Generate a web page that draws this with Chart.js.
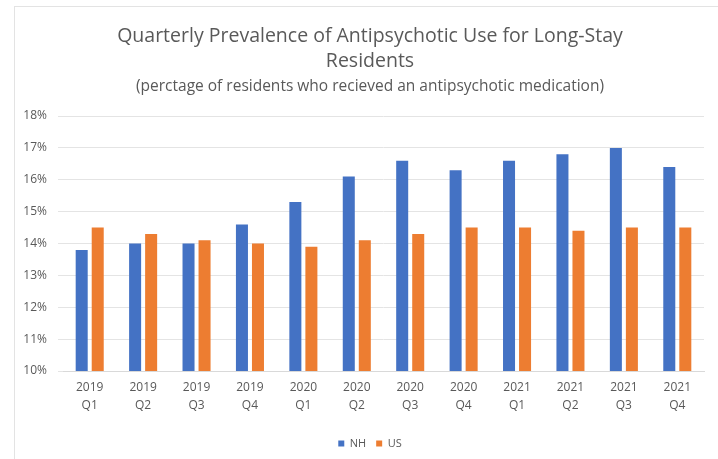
<!DOCTYPE html>
<html>
<head>
<meta charset="utf-8">
<script src="https://cdn.jsdelivr.net/npm/chart.js@4/dist/chart.umd.min.js"></script>
<style>
  html, body { margin: 0; padding: 0; background: #ffffff; overflow: hidden; }
  #frame {
    position: absolute; left: 14px; top: 6px; width: 720px; height: 470px;
    border: 1px solid #e3e3e3; box-sizing: border-box; background: #fff;
  }
  #wrap { position: absolute; left: 0; top: 0; width: 718px; height: 459px; }
</style>
</head>
<body>
<div id="frame"></div>
<div id="wrap"><canvas id="chart" width="718" height="459"></canvas></div>
<script>
// Quarters, shown as two-line labels
const quarters = [
  ["2019", "Q1"], ["2019", "Q2"], ["2019", "Q3"], ["2019", "Q4"],
  ["2020", "Q1"], ["2020", "Q2"], ["2020", "Q3"], ["2020", "Q4"],
  ["2021", "Q1"], ["2021", "Q2"], ["2021", "Q3"], ["2021", "Q4"]
];
// Share of long-stay residents on antipsychotics (%)
const nhValues = [13.8, 14.0, 14.0, 14.6, 15.3, 16.1, 16.6, 16.3, 16.6, 16.8, 17.0, 16.4];
const usValues = [14.5, 14.3, 14.1, 14.0, 13.9, 14.1, 14.3, 14.5, 14.5, 14.4, 14.5, 14.5];
const seriesNames = ["NH", "US"];
const titleLines = ["Quarterly Prevalence of Antipsychotic Use for Long-Stay", "Residents"];
const subtitleText = "(perctage of residents who recieved an antipsychotic medication)";

const textColor = "#595959";
const fontFamily = "'Open Sans', 'Liberation Sans', sans-serif";

new Chart(document.getElementById("chart"), {
  type: "bar",
  data: {
    labels: quarters,
    datasets: [
      { label: seriesNames[0], data: nhValues, backgroundColor: "#4472c4",
        categoryPercentage: 0.6, barPercentage: 0.75 },
      { label: seriesNames[1], data: usValues, backgroundColor: "#ed7d31",
        categoryPercentage: 0.6, barPercentage: 0.75 }
    ]
  },
  options: {
    responsive: false,
    animation: false,
    devicePixelRatio: 1,
    layout: { padding: { left: 22, right: 0, top: 0, bottom: 0 } },
    plugins: {
      title: {
        display: true, text: titleLines, color: textColor,
        font: { family: fontFamily, size: 19.5, weight: "normal", lineHeight: "25px" },
        padding: { top: 24, bottom: 4 }
      },
      subtitle: {
        display: true, text: subtitleText, color: textColor,
        font: { family: fontFamily, size: 15.5, weight: "normal", lineHeight: "18px" },
        padding: { top: 0, bottom: 20 }
      },
      legend: {
        position: "bottom",
        labels: {
          color: textColor, boxWidth: 6, boxHeight: 6, padding: 10,
          font: { family: fontFamily, size: 11 }
        }
      },
      tooltip: { enabled: false }
    },
    scales: {
      x: {
        afterFit: scale => { scale.height += 13; },
        grid: { display: false },
        border: { color: "#d9d9d9" },
        ticks: {
          color: textColor, padding: 0, maxRotation: 0,
          font: { family: fontFamily, size: 12, lineHeight: "18px" }
        }
      },
      y: {
        min: 10, max: 18,
        afterFit: scale => { scale.width = 41; },
        grid: { color: "#e4e4e4", drawTicks: true, tickLength: 5 },
        border: { display: false },
        ticks: {
          stepSize: 1, color: textColor, padding: 11,
          font: { family: fontFamily, size: 12 },
          callback: v => v + "%"
        }
      },
      // empty right-hand margin strip beside the plot
      gutter: {
        position: "right",
        afterFit: scale => { scale.width = 14; },
        grid: { display: false },
        border: { display: false },
        ticks: { display: false }
      }
    }
  }
});
</script>
</body>
</html>
